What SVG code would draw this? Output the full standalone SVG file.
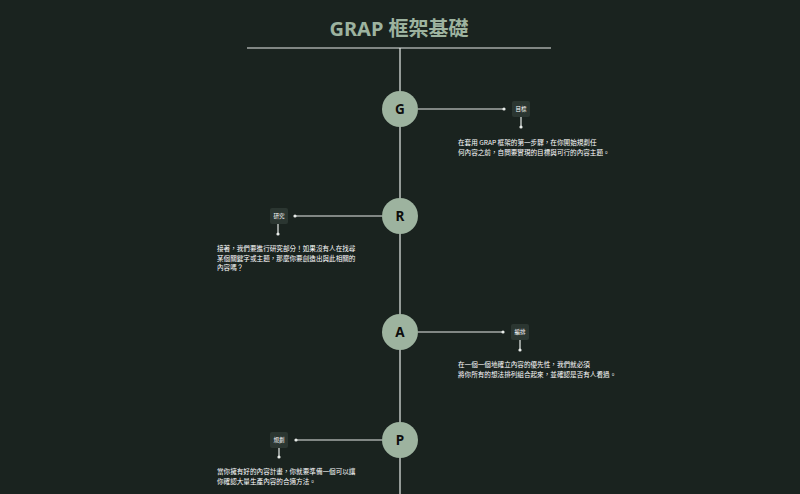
<svg xmlns="http://www.w3.org/2000/svg" width="800" height="494" viewBox="0 0 800 494">
<style>
.bg{fill:#1a231f}
.ln{stroke:#e8ece9;stroke-width:1.2;fill:none}
.dot{fill:#e8ece9}
.circ{fill:#9db39f}
.letter{font-family:"Noto Sans","Noto Sans CJK TC",sans-serif;font-weight:700;font-size:13.5px;fill:#0d0d0d;text-anchor:middle}
.lbox{fill:#2b3631}
.lbl{font-family:"Noto Sans CJK TC","Noto Sans",sans-serif;font-size:5.5px;fill:#ffffff;text-anchor:middle}
.desc{font-family:"Noto Sans CJK TC","Noto Sans",sans-serif;font-size:6.6px;fill:#ffffff}
.title{font-family:"Noto Sans","Noto Sans CJK TC",sans-serif;font-weight:700;font-size:20px;fill:#9db39f;text-anchor:middle}
</style>
<rect class="bg" x="0" y="0" width="800" height="494"/>
<text class="title" x="399" y="36">GRAP 框架基礎</text>
<g id="connectors">
<line class="ln" x1="247" y1="48" x2="551" y2="48"/>
<line class="ln" x1="400" y1="48" x2="400" y2="494"/>
<line class="ln" x1="418" y1="109" x2="504" y2="109"/><circle class="dot" cx="504" cy="109" r="1.6"/>
<line class="ln" x1="521" y1="117" x2="521" y2="127"/><circle class="dot" cx="521" cy="127" r="1.6"/>
<line class="ln" x1="382" y1="216" x2="295" y2="216"/><circle class="dot" cx="295" cy="216" r="1.6"/>
<line class="ln" x1="278" y1="224" x2="278" y2="234"/><circle class="dot" cx="278" cy="234" r="1.6"/>
<line class="ln" x1="418" y1="332" x2="503" y2="332"/><circle class="dot" cx="503" cy="332" r="1.6"/>
<line class="ln" x1="520" y1="340" x2="520" y2="350"/><circle class="dot" cx="520" cy="350" r="1.6"/>
<line class="ln" x1="382" y1="440" x2="296" y2="440"/><circle class="dot" cx="296" cy="440" r="1.6"/>
<line class="ln" x1="279" y1="448" x2="279" y2="457"/><circle class="dot" cx="279" cy="457" r="1.6"/>
</g>
<g id="node-g">
<circle class="circ" cx="400" cy="109" r="18"/><text class="letter" x="400" y="113.8">G</text>
<rect class="lbox" x="512" y="101" width="18" height="16" rx="2"/><text class="lbl" x="521" y="111">目標</text>
<text class="desc" x="458" y="145">在套用 GRAP 框架的第一步驟，在你開始規劃任</text>
<text class="desc" x="458" y="155">何內容之前，自問要實現的目標與可行的內容主題。</text>
</g>
<g id="node-r">
<circle class="circ" cx="400" cy="216" r="18"/><text class="letter" x="400" y="220.8">R</text>
<rect class="lbox" x="270" y="208" width="18" height="16" rx="2"/><text class="lbl" x="279" y="218">研究</text>
<text class="desc" x="217" y="251">接著，我們要進行研究部分！如果沒有人在找尋</text>
<text class="desc" x="217" y="260.5">某個關鍵字或主題，那麼你要創造出與此相關的</text>
<text class="desc" x="217" y="270">內容嗎？</text>
</g>
<g id="node-a">
<circle class="circ" cx="400" cy="332" r="18"/><text class="letter" x="400" y="336.8">A</text>
<rect class="lbox" x="511" y="324" width="18" height="16" rx="2"/><text class="lbl" x="520" y="334">編排</text>
<text class="desc" x="458" y="367">在一個一個地確立內容的優先性，我們就必須</text>
<text class="desc" x="458" y="377">將你所有的想法排列組合起來，並確認是否有人看過。</text>
</g>
<g id="node-p">
<circle class="circ" cx="400" cy="440" r="18"/><text class="letter" x="400" y="444.8">P</text>
<rect class="lbox" x="270" y="432" width="18" height="16" rx="2"/><text class="lbl" x="279" y="442">規劃</text>
<text class="desc" x="217" y="474">當你擁有好的內容計畫，你就要準備一個可以讓</text>
<text class="desc" x="217" y="484">你確認大量生產內容的合適方法。</text>
</g>
</svg>
